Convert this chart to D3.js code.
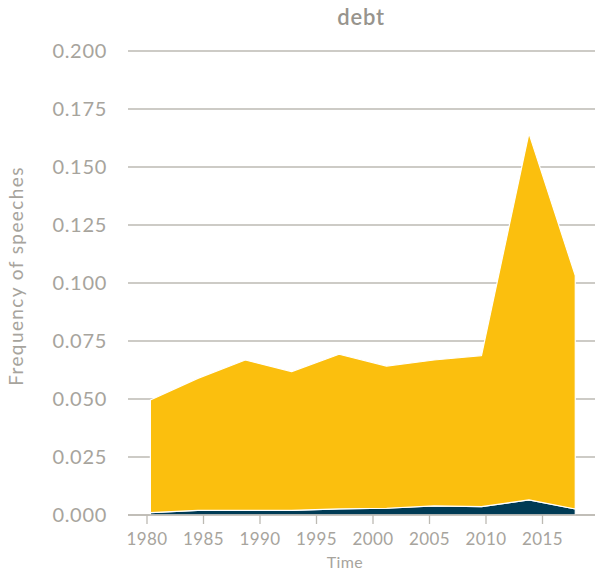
<!DOCTYPE html>
<html>
<head>
<meta charset="utf-8">
<script src="https://cdn.jsdelivr.net/npm/d3@7"></script>
<style>
  html, body { margin: 0; padding: 0; background: #fff; }
  svg { display: block; font-family: "Lato", "Open Sans", sans-serif; }
</style>
</head>
<body>
<svg id="chart" width="595" height="573"></svg>
<script>
// ---- data ----
const years = [1980.3, 1984.5, 1988.7, 1992.8, 1997.0, 2001.2, 2005.4, 2009.6, 2013.8, 2017.9];
const seriesNames = ["dark", "yellow"];
const darkValues = [0.0010, 0.0020, 0.0020, 0.0020, 0.0026, 0.0029, 0.0039, 0.0036, 0.0065, 0.0026];
const totalValues = [0.0496, 0.0589, 0.0668, 0.0618, 0.0693, 0.0642, 0.0668, 0.0687, 0.1645, 0.1032];
const yellowValues = totalValues.map((t, i) => t - darkValues[i]);
const yTicks = [0, 0.025, 0.05, 0.075, 0.1, 0.125, 0.15, 0.175, 0.2];
const xTicks = [1980, 1985, 1990, 1995, 2000, 2005, 2010, 2015];
const colors = ["#003b55", "#fbbf0e"];

const rows = years.map((y, i) => ({ year: y, dark: darkValues[i], yellow: yellowValues[i] }));

const svg = d3.select("#chart");
const gridLeft = 128, gridRight = 595;

const x = d3.scaleLinear().domain([1980, 2015]).range([147, 542.5]);
const y = d3.scaleLinear().domain([0, 0.2]).range([515, 51]);

const textColor = "#a7a49d";
const gridColor = "#bdbab3";

// gridlines
svg.append("g").selectAll("line").data(yTicks).join("line")
  .attr("x1", gridLeft).attr("x2", gridRight)
  .attr("y1", d => y(d)).attr("y2", d => y(d))
  .attr("stroke", gridColor).attr("stroke-width", 1.3);

// y tick labels
svg.append("g").selectAll("text").data(yTicks).join("text")
  .attr("x", 107).attr("y", d => y(d))
  .attr("dy", "0.36em")
  .attr("text-anchor", "end")
  .attr("fill", textColor)
  .attr("font-size", 20)
  .attr("letter-spacing", 0.7)
  .text(d => d3.format(".3f")(d));

// stacked areas
const stack = d3.stack().keys(seriesNames);
const layers = stack(rows);
const area = d3.area()
  .x(d => x(d.data.year))
  .y0(d => y(d[0]))
  .y1(d => y(d[1]));

svg.append("g").selectAll("path").data(layers).join("path")
  .attr("d", area)
  .attr("fill", (d, i) => colors[i])
  .attr("stroke", "#ffffff")
  .attr("stroke-width", 1.2)
  .attr("stroke-linejoin", "round");

// x axis baseline
svg.append("line")
  .attr("x1", gridLeft).attr("x2", gridRight)
  .attr("y1", y(0)).attr("y2", y(0))
  .attr("stroke", gridColor).attr("stroke-width", 1.3);

// x ticks
const xg = svg.append("g");
xg.selectAll("line").data(xTicks).join("line")
  .attr("x1", d => x(d)).attr("x2", d => x(d))
  .attr("y1", y(0)).attr("y2", y(0) + 9)
  .attr("stroke", gridColor).attr("stroke-width", 1.3);
xg.selectAll("text").data(xTicks).join("text")
  .attr("x", d => x(d)).attr("y", 545)
  .attr("text-anchor", "middle")
  .attr("fill", textColor)
  .attr("font-size", 17)
  .attr("letter-spacing", 0.4)
  .text(d => d);

// axis titles
svg.append("text")
  .attr("x", 345).attr("y", 568)
  .attr("text-anchor", "middle")
  .attr("fill", textColor)
  .attr("font-size", 16)
  .attr("letter-spacing", 0.4)
  .text("Time");

svg.append("text")
  .attr("transform", "translate(23,276) rotate(-90)")
  .attr("text-anchor", "middle")
  .attr("fill", textColor)
  .attr("font-size", 19)
  .attr("letter-spacing", 1.4)
  .text("Frequency of speeches");

svg.append("text")
  .attr("x", 361).attr("y", 25)
  .attr("text-anchor", "middle")
  .attr("fill", "#97948d")
  .attr("font-size", 22)
  .attr("font-weight", 600)
  .attr("letter-spacing", 0.8)
  .text("debt");
</script>
</body>
</html>
